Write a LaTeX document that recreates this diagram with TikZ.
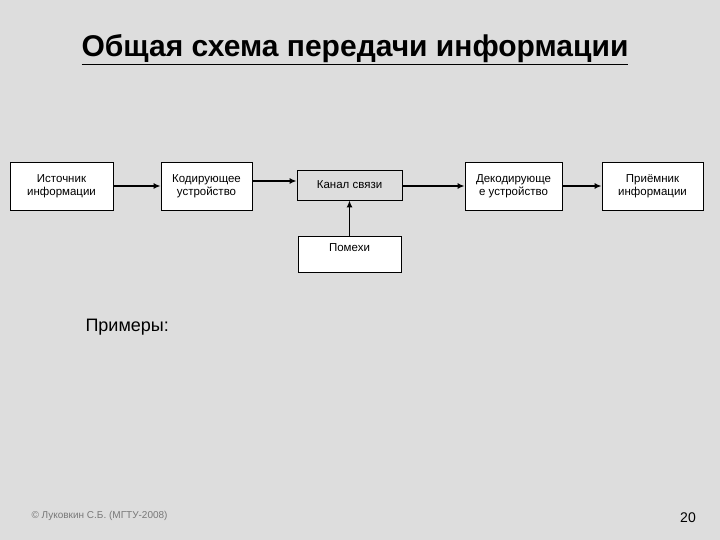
\documentclass[tikz,border=0pt]{standalone}
\usepackage{fontspec}
\setmainfont{Liberation Sans}
\usetikzlibrary{arrows.meta}
\begin{document}
\begin{tikzpicture}[x=1pt,y=-1pt,
  blk/.style={draw=black,line width=0.8pt,fill=white,inner sep=0pt,align=center,font=\fontsize{11.5}{12.5}\selectfont},
  arr/.style={line width=1.8pt,-{Latex[length=7pt,width=6pt]}}]
\fill[fill={rgb,255:red,221;green,221;blue,221}] (0,0) rectangle (720,540);
\useasboundingbox (0,0) rectangle (720,540);
\node[font=\bfseries\fontsize{30}{34}\selectfont] (title) at (355,50) {\underline{Общая схема передачи информации}};
\node[blk,minimum width=103pt,minimum height=48pt] (src) at (61.5,186) {Источник\\информации};
\node[blk,minimum width=91pt,minimum height=48pt] (enc) at (206.5,186) {Кодирующее\\устройство};
\node[blk,fill={rgb,255:red,221;green,221;blue,221},minimum width=105pt,minimum height=30pt] (ch) at (349.5,185) {Канал связи};
\node[blk,minimum width=97pt,minimum height=48pt] (dec) at (513.5,186) {Декодирующе\\е устройство};
\node[blk,minimum width=101pt,minimum height=48pt] (rcv) at (652.5,186) {Приёмник\\информации};
\node[blk,minimum width=103pt,minimum height=36pt,anchor=north] (noise) at (349.5,236) {};
\node[font=\fontsize{11.5}{12.5}\selectfont] (noisel) at (349.5,248) {Помехи};
\draw[arr] (src.east) -- (enc.west);
\draw[arr] (enc.east |- 0,181) -- (ch.west |- 0,181);
\draw[arr] (ch.east |- 0,186) -- (dec.west);
\draw[arr] (dec.east) -- (rcv.west);
\draw[arr] (noise.north) -- (ch.south);
\node[font=\fontsize{18}{20}\selectfont,anchor=west] (ex) at (82,327) {Примеры:};
\node[font=\fontsize{10}{11}\selectfont,text={rgb,255:red,120;green,120;blue,120},anchor=west] (foot) at (28,516) {© Луковкин С.Б. (МГТУ-2008)};
\node[font=\fontsize{14}{16}\selectfont] (pg) at (688,518) {20};
\end{tikzpicture}
\end{document}
